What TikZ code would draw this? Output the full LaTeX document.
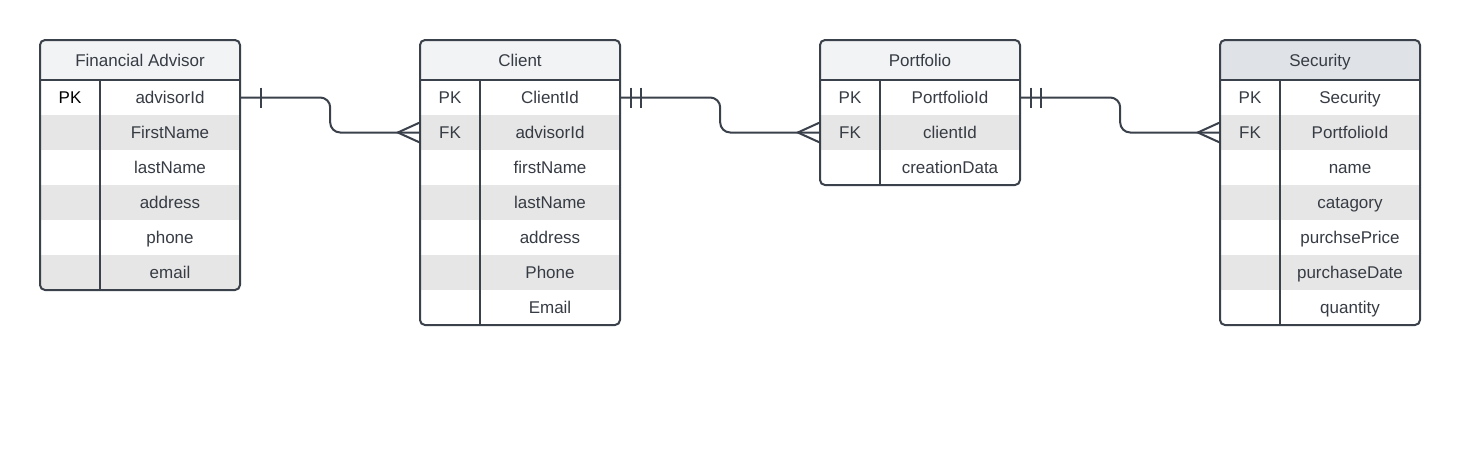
\documentclass[tikz,border=0pt]{standalone}
\usepackage{fontspec}
\setmainfont{Liberation Sans}
\usepackage{xcolor}
\definecolor{edge}{RGB}{58,65,74}
\definecolor{ink}{RGB}{55,60,68}
\definecolor{stripe}{RGB}{230,230,230}
\definecolor{head}{RGB}{242,243,245}
\definecolor{headdark}{RGB}{223,227,232}
\usetikzlibrary{calc,positioning}

\tikzset{
    cellfont/.style={font=\fontsize{17}{20}\selectfont, text=ink, inner sep=0pt, text height=12pt, text depth=0pt},
    headcell/.style={cellfont, minimum width=200pt, minimum height=40pt},
    keycell/.style={cellfont, minimum width=60pt, minimum height=35pt},
    fieldcell/.style={cellfont, minimum width=140pt, minimum height=35pt},
    frame/.style={draw=edge, line width=2pt},
    link/.style={draw=edge, line width=2pt, rounded corners=10pt},
}

\begin{document}
\begin{tikzpicture}[x=1pt,y=-1pt]
    \useasboundingbox[fill=white] (0,0) rectangle (1460,467);
    % Financial Advisor
    \begin{scope}[shift={(40,40)}]
        \begin{scope}
            \clip[rounded corners=5pt] (0,0) rectangle (200,250);
            \fill[head] (0,0) rectangle (200,40);
            \foreach \r in {2,4,6} \fill[stripe] (0,{5+35*\r}) rectangle (200,{40+35*\r});
        \end{scope}
        \draw[frame, rounded corners=5pt] (0,0) rectangle (200,250);
        \draw[frame] (0,40) -- (200,40) (60,40) -- (60,250);
        \node[headcell] (fa-h) at (100,20) {Financial Advisor};
        \node[keycell, text=black] (fa-k1) at (30,57.5) {PK};
        \foreach \r/\f in {1/advisorId,2/FirstName,3/lastName,4/address,5/phone,6/email}
            \node[fieldcell] (fa-r\r) at (130,{22.5+35*\r}) {\f};
    \end{scope}
    % Client
    \begin{scope}[shift={(420,40)}]
        \begin{scope}
            \clip[rounded corners=5pt] (0,0) rectangle (200,285);
            \fill[head] (0,0) rectangle (200,40);
            \foreach \r in {2,4,6} \fill[stripe] (0,{5+35*\r}) rectangle (200,{40+35*\r});
        \end{scope}
        \draw[frame, rounded corners=5pt] (0,0) rectangle (200,285);
        \draw[frame] (0,40) -- (200,40) (60,40) -- (60,285);
        \node[headcell] (cl-h) at (100,20) {Client};
        \node[keycell] (cl-k1) at (30,57.5) {PK};
        \node[keycell] (cl-k2) at (30,92.5) {FK};
        \foreach \r/\f in {1/ClientId,2/advisorId,3/firstName,4/lastName,5/address,6/Phone,7/Email}
            \node[fieldcell] (cl-r\r) at (130,{22.5+35*\r}) {\f};
    \end{scope}
    % Portfolio
    \begin{scope}[shift={(820,40)}]
        \begin{scope}
            \clip[rounded corners=5pt] (0,0) rectangle (200,145);
            \fill[head] (0,0) rectangle (200,40);
            \fill[stripe] (0,75) rectangle (200,110);
        \end{scope}
        \draw[frame, rounded corners=5pt] (0,0) rectangle (200,145);
        \draw[frame] (0,40) -- (200,40) (60,40) -- (60,145);
        \node[headcell] (pf-h) at (100,20) {Portfolio};
        \node[keycell] (pf-k1) at (30,57.5) {PK};
        \node[keycell] (pf-k2) at (30,92.5) {FK};
        \foreach \r/\f in {1/PortfolioId,2/clientId,3/creationData}
            \node[fieldcell] (pf-r\r) at (130,{22.5+35*\r}) {\f};
    \end{scope}
    % Security
    \begin{scope}[shift={(1220,40)}]
        \begin{scope}
            \clip[rounded corners=5pt] (0,0) rectangle (200,285);
            \fill[headdark] (0,0) rectangle (200,40);
            \foreach \r in {2,4,6} \fill[stripe] (0,{5+35*\r}) rectangle (200,{40+35*\r});
        \end{scope}
        \draw[frame, rounded corners=5pt] (0,0) rectangle (200,285);
        \draw[frame] (0,40) -- (200,40) (60,40) -- (60,285);
        \node[headcell] (sc-h) at (100,20) {Security};
        \node[keycell] (sc-k1) at (30,57.5) {PK};
        \node[keycell] (sc-k2) at (30,92.5) {FK};
        \foreach \r/\f in {1/Security,2/PortfolioId,3/name,4/catagory,5/purchsePrice,6/purchaseDate,7/quantity}
            \node[fieldcell] (sc-r\r) at (130,{22.5+35*\r}) {\f};
    \end{scope}
    % relations
    \draw[link] (fa-r1.east) -- ++(90,0) |- (cl-k2.west);
    \draw[frame] ($(fa-r1.east)+(21,-10)$) -- ++(0,20);
    \draw[frame] ($(cl-k2.west)+(0,-10)$) -- ++(-22,10) -- ++(22,10);
    \draw[link] (cl-r1.east) -- ++(100,0) |- (pf-k2.west);
    \draw[frame] ($(cl-r1.east)+(11,-10)$) -- ++(0,20) ($(cl-r1.east)+(21,-10)$) -- ++(0,20);
    \draw[frame] ($(pf-k2.west)+(0,-10)$) -- ++(-22,10) -- ++(22,10);
    \draw[link] (pf-r1.east) -- ++(100,0) |- (sc-k2.west);
    \draw[frame] ($(pf-r1.east)+(11,-10)$) -- ++(0,20) ($(pf-r1.east)+(21,-10)$) -- ++(0,20);
    \draw[frame] ($(sc-k2.west)+(0,-10)$) -- ++(-22,10) -- ++(22,10);
\end{tikzpicture}
\end{document}
